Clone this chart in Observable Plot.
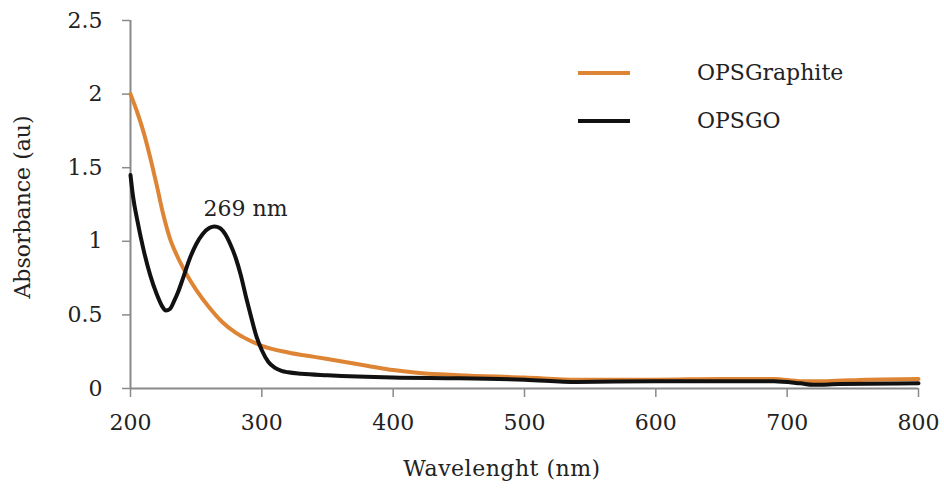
<!DOCTYPE html>
<html>
<head>
<meta charset="utf-8">
<script src="https://cdn.jsdelivr.net/npm/d3@7"></script>
<script src="https://cdn.jsdelivr.net/npm/@observablehq/plot@0.6"></script>
<style>
  body { margin: 0; background: #fff; }
  #wrap { position: relative; width: 944px; height: 488px; font-family: "DejaVu Serif", serif; }
  .leg { position: absolute; font-size: 22px; color: #222; display: flex; align-items: center; }
  .leg .sw { width: 52px; height: 4px; margin-right: 67px; }
</style>
</head>
<body>
<div id="wrap"></div>
<script>
// Wavelength grid and absorbance values
const graphiteWl = [200,205,210,215,220,225,230,235,240,245,250,260,270,280,290,300,320,340,360,380,400,420,450,500,540,600,650,690,710,730,760,800];
const graphiteAbs = [2.0,1.88,1.74,1.57,1.38,1.18,1.02,0.91,0.82,0.74,0.67,0.55,0.45,0.38,0.33,0.29,0.245,0.215,0.185,0.155,0.125,0.105,0.09,0.075,0.06,0.06,0.065,0.065,0.05,0.05,0.06,0.065];

const goWl = [200,202,205,210,215,220,224,227,230,233,236,240,245,250,255,260,264,268,272,276,280,284,288,292,296,300,305,310,315,320,330,350,400,450,500,540,600,690,710,720,740,800];
const goAbs = [1.45,1.30,1.15,0.94,0.77,0.64,0.56,0.53,0.54,0.59,0.65,0.75,0.88,0.98,1.05,1.09,1.10,1.09,1.05,0.98,0.89,0.77,0.62,0.48,0.35,0.26,0.18,0.14,0.12,0.11,0.10,0.09,0.075,0.07,0.06,0.045,0.05,0.05,0.035,0.025,0.03,0.035];

const seriesNames = ["OPSGraphite", "OPSGO"];
const seriesColors = ["#de8535", "#111111"];
const xTicks = [200,300,400,500,600,700,800];
const yTicks = [0,0.5,1,1.5,2,2.5];
const yTickLabels = ["0","0.5","1","1.5","2","2.5"];
const peakLabel = {wl: 264, abs: 1.10, text: "269 nm"};

const graphite = graphiteWl.map((w,i) => ({wl: w, abs: graphiteAbs[i]}));
const go = goWl.map((w,i) => ({wl: w, abs: goAbs[i]}));

const axisColor = "#8a8a8a";
const chart = Plot.plot({
  width: 944,
  height: 488,
  marginLeft: 130,
  marginRight: 26,
  marginTop: 20,
  marginBottom: 100,
  style: {fontFamily: "DejaVu Serif, serif", fontSize: "22px", color: "#222", background: "#fff"},
  x: {domain: [200, 800]},
  y: {domain: [0, 2.5]},
  marks: [
    Plot.axisX({ticks: xTicks, tickSize: 9, tickPadding: 17, stroke: axisColor, strokeWidth: 1.5, fill: "#222", label: null}),
    Plot.axisY({ticks: yTicks, tickFormat: (d,i) => yTickLabels[i], tickSize: 8, tickPadding: 20, stroke: axisColor, strokeWidth: 1.5, fill: "#222", label: null}),
    Plot.ruleX([200], {stroke: axisColor, strokeWidth: 2}),
    Plot.ruleY([0], {stroke: axisColor, strokeWidth: 2}),
    Plot.line(graphite, {x: "wl", y: "abs", stroke: seriesColors[0], strokeWidth: 4, curve: "monotone-x"}),
    Plot.line(go, {x: "wl", y: "abs", stroke: seriesColors[1], strokeWidth: 4, curve: "monotone-x"}),
    Plot.text([peakLabel], {x: "wl", y: "abs", text: "text", textAnchor: "start", lineAnchor: "bottom", dx: -11, dy: -11, fontSize: 22, fill: "#222"})
  ]
});

const wrap = document.getElementById("wrap");
wrap.appendChild(chart);

// axis titles
const svg = d3.select(chart);
svg.append("text").attr("x", 502).attr("y", 476).attr("text-anchor", "middle")
  .attr("font-size", 22).attr("fill", "#222").attr("letter-spacing", "0.5px").text("Wavelenght (nm)");
svg.append("text").attr("transform", "translate(30,207) rotate(-90)").attr("text-anchor", "middle")
  .attr("font-size", 22).attr("fill", "#222").text("Absorbance (au)");

// legend
const legTops = [60, 108];
seriesNames.forEach((n, i) => {
  const d = document.createElement("div");
  d.className = "leg";
  d.style.left = "578px";
  d.style.top = legTops[i] + "px";
  d.innerHTML = `<span class="sw" style="background:${seriesColors[i]}"></span><span>${n}</span>`;
  wrap.appendChild(d);
});
</script>
</body>
</html>
